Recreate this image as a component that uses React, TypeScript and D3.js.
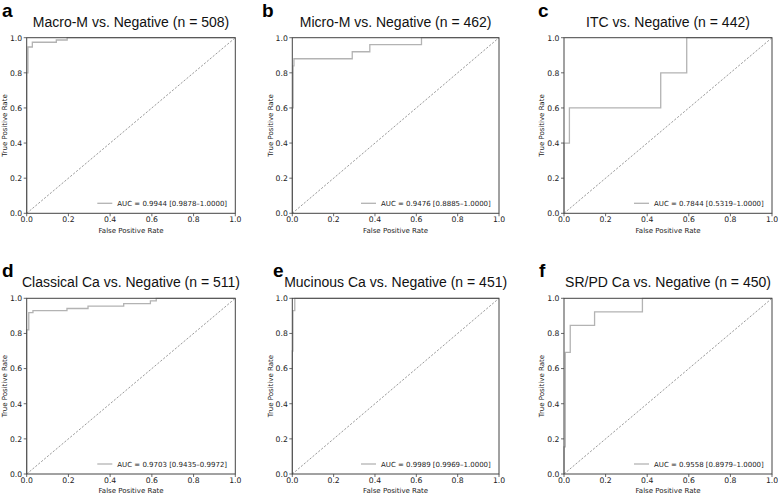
import React from "react";
import * as d3 from "d3";

// ---- data ----
const panelLetters = ["a", "b", "c", "d", "e", "f"];
const panelTitles = [
  "Macro-M vs. Negative (n = 508)",
  "Micro-M vs. Negative (n = 462)",
  "ITC vs. Negative (n = 442)",
  "Classical Ca vs. Negative (n = 511)",
  "Mucinous Ca vs. Negative (n = 451)",
  "SR/PD Ca vs. Negative (n = 450)",
];
const aucLabels = [
  "AUC = 0.9944 [0.9878–1.0000]",
  "AUC = 0.9476 [0.8885–1.0000]",
  "AUC = 0.7844 [0.5319–1.0000]",
  "AUC = 0.9703 [0.9435–0.9972]",
  "AUC = 0.9989 [0.9969–1.0000]",
  "AUC = 0.9558 [0.8979–1.0000]",
];

const macroFpr = [0, 0, 0.006, 0.006, 0.027, 0.027, 0.142, 0.142, 0.194, 0.194, 1];
const macroTpr = [0, 0.8, 0.8, 0.947, 0.947, 0.974, 0.974, 0.987, 0.987, 1, 1];

const microFpr = [0, 0, 0.004, 0.004, 0.008, 0.008, 0.29, 0.29, 0.375, 0.375, 0.625, 0.625, 1];
const microTpr = [0, 0.6, 0.6, 0.84, 0.84, 0.88, 0.88, 0.92, 0.92, 0.96, 0.96, 1, 1];

const itcFpr = [0, 0, 0.026, 0.026, 0.465, 0.465, 0.59, 0.59, 1];
const itcTpr = [0, 0.4, 0.4, 0.6, 0.6, 0.8, 0.8, 1, 1];

const classicalFpr = [0, 0, 0.01, 0.01, 0.03, 0.03, 0.193, 0.193, 0.294, 0.294, 0.465, 0.465, 0.593, 0.593, 0.621, 0.621, 1];
const classicalTpr = [0, 0.82, 0.82, 0.918, 0.918, 0.93, 0.93, 0.942, 0.942, 0.955, 0.955, 0.97, 0.97, 0.985, 0.985, 1, 1];

const mucinousFpr = [0, 0, 0.003, 0.003, 0.012, 0.012, 1];
const mucinousTpr = [0, 0.7, 0.7, 0.93, 0.93, 1, 1];

const srpdFpr = [0, 0, 0.006, 0.006, 0.03, 0.03, 0.147, 0.147, 0.377, 0.377, 1];
const srpdTpr = [0, 0.154, 0.154, 0.692, 0.692, 0.846, 0.846, 0.923, 0.923, 1, 1];

const fprSeries = [macroFpr, microFpr, itcFpr, classicalFpr, mucinousFpr, srpdFpr];
const tprSeries = [macroTpr, microTpr, itcTpr, classicalTpr, mucinousTpr, srpdTpr];

const tickValues = [0, 0.2, 0.4, 0.6, 0.8, 1.0];

// ---- layout ----
const W = 778;
const H = 495;
const colLeft = [26.7, 292.3, 564];
const colRight = [235.3, 499, 772];
const rowTop = [37.7, 298.3];
const rowBottom = [213.3, 474];
const letterX = [2, 262, 538, 2, 273, 539];
const yLabelX = [4, 270, 541];

const tickFont = "'DejaVu Sans', sans-serif";
const titleFont = "'Liberation Sans', Arial, sans-serif";

function Panel({ i }: { i: number }) {
  const col = i % 3;
  const row = Math.floor(i / 3);
  const x0 = colLeft[col];
  const x1 = colRight[col];
  const y0 = rowTop[row];
  const y1 = rowBottom[row];
  const x = d3.scaleLinear().domain([0, 1]).range([x0, x1]);
  const y = d3.scaleLinear().domain([0, 1]).range([y1, y0]);
  const pts: [number, number][] = fprSeries[i].map((f, k) => [f, tprSeries[i][k]]);
  const line = d3
    .line<[number, number]>()
    .x((d) => x(d[0]))
    .y((d) => y(d[1]));
  const cx = (x0 + x1) / 2;
  const cy = (y0 + y1) / 2;
  const titleY = row === 0 ? 26.7 : 287.3;
  const letterY = row === 0 ? 17 : 276.5;
  const xLabelY = row === 0 ? 232.5 : 493;
  return (
    <g>
      <text x={letterX[i]} y={letterY} fontFamily={titleFont} fontWeight="bold" fontSize={19} fill="#000">
        {panelLetters[i]}
      </text>
      <text x={cx} y={titleY} fontFamily={titleFont} fontSize={14} textAnchor="middle" fill="#111">
        {panelTitles[i]}
      </text>
      {/* diagonal */}
      <line
        x1={x(0)}
        y1={y(0)}
        x2={x(1)}
        y2={y(1)}
        stroke="#555"
        strokeWidth={0.6}
        strokeDasharray="2.2,1.6"
      />
      {/* ROC curve */}
      <path d={line(pts) || ""} fill="none" stroke="#b3b3b3" strokeWidth={1.3} />
      {/* frame */}
      <rect x={x0} y={y0} width={x1 - x0} height={y1 - y0} fill="none" stroke="#444" strokeWidth={1} />
      {/* ticks */}
      {tickValues.map((t) => (
        <g key={"x" + t}>
          <line x1={x(t)} x2={x(t)} y1={y1} y2={y1 + 3} stroke="#444" strokeWidth={0.8} />
          <text x={x(t)} y={y1 + 8.5} fontFamily={tickFont} fontSize={7.7} textAnchor="middle" fill="#222">
            {t.toFixed(1)}
          </text>
        </g>
      ))}
      {tickValues.map((t) => (
        <g key={"y" + t}>
          <line x1={x0 - 3} x2={x0} y1={y(t)} y2={y(t)} stroke="#444" strokeWidth={0.8} />
          <text x={x0 - 4.5} y={y(t) + 2.8} fontFamily={tickFont} fontSize={7.7} textAnchor="end" fill="#222">
            {t.toFixed(1)}
          </text>
        </g>
      ))}
      <text x={cx} y={xLabelY} fontFamily={tickFont} fontSize={7} textAnchor="middle" fill="#222">
        False Positive Rate
      </text>
      <text
        transform={`translate(${yLabelX[col] + 2.5},${cy}) rotate(-90)`}
        fontFamily={tickFont}
        fontSize={7}
        textAnchor="middle"
        fill="#222"
      >
        True Positive Rate
      </text>
      {/* legend */}
      <line x1={x1 - 138} x2={x1 - 123} y1={y1 - 10} y2={y1 - 10} stroke="#b3b3b3" strokeWidth={1.3} />
      <text x={x1 - 118} y={y1 - 7.5} fontFamily={tickFont} fontSize={7} fill="#222">
        {aucLabels[i]}
      </text>
    </g>
  );
}

export default function App() {
  return (
    <svg
      width={W}
      height={H}
      viewBox={`0 0 ${W} ${H}`}
      style={{ position: "absolute", left: 0, top: 0, background: "#fff" }}
    >
      <rect width={W} height={H} fill="#fff" />
      {panelLetters.map((_, i) => (
        <Panel key={i} i={i} />
      ))}
    </svg>
  );
}
